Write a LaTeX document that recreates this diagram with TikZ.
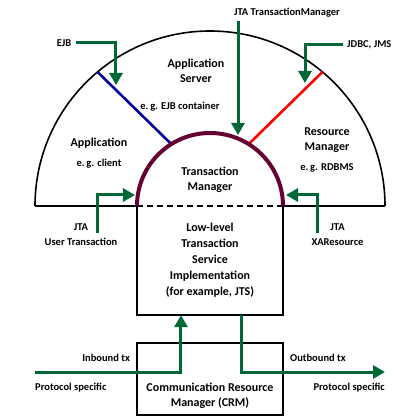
\documentclass[tikz,border=0pt]{standalone}
\usepackage{fontspec}
\setmainfont{Carlito}
\usetikzlibrary{arrows.meta,positioning}
\definecolor{jtagreen}{RGB}{0,104,55}
\definecolor{tmmaroon}{RGB}{102,0,51}
\definecolor{asblue}{RGB}{0,0,153}
\definecolor{rmred}{RGB}{250,0,0}

\begin{document}
\begin{tikzpicture}[
  x = 1pt, y = 1pt,
  every node/.style = {font=\bfseries\fontsize{12}{15.5}\selectfont, align=center, inner sep=0pt},
  small/.style = {font=\bfseries\fontsize{10.5}{15}\selectfont},
  jta/.style = {jtagreen, line width=3pt, -{Triangle[length=12pt,width=13pt]}},
  edge/.style = {line width=1.6pt}]
  \def\outr{175}
  \def\innr{73}
  \useasboundingbox (-210,-214) rectangle (210,206);

  % regions of the half disc
  \draw[edge] (-\outr,0) -- (-\innr,0);
  \draw[edge] (\innr,0) -- (\outr,0);
  \draw[edge] (\outr,0) arc (0:180:\outr);
  \draw[edge,dash pattern=on 6pt off 4pt] (-\innr,0) -- (\innr,0);
  \draw[asblue,line width=2.6pt] (130:\outr) -- (122:\innr);
  \draw[rmred,line width=2.6pt] (50:\outr) -- (58:\innr);

  \node (as) at (-14,135) {Application\\Server};
  \node[small] (ejbc) at (-30,99) {e.\,g. EJB container};
  \node (app) at (-111,63) {Application};
  \node[small] (cli) at (-111,42) {e.\,g. client};
  \node (tm) at (0,26) {Transaction\\Manager};
  \node (rm) at (117,66) {Resource\\Manager};
  \node[small] (rdb) at (117,38) {e.\,g. RDBMS};

  % service boxes
  \node[minimum width=146pt, minimum height=109pt, font=\bfseries\fontsize{12}{16}\selectfont] (ll) at (0,-54.5)
    {Low-level\\Transaction\\Service\\Implementation\\(for example, JTS)};
  \draw[edge] (ll.north west) -- (ll.south west) -- (ll.south east) -- (ll.north east);
  \node[draw, edge, minimum width=146pt, minimum height=72pt] (crm) at (0,-173) {};
  \node[above=7pt of crm.south] (crmtxt) {Communication Resource\\Manager (CRM)};

  \draw[tmmaroon,line width=4pt] (\innr,0) arc (0:180:\innr);

  % interfaces
  \node[small] (ejb) at (-146,163) {EJB};
  \coordinate (ejbtip) at (-94,121);
  \draw[jta] ([xshift=5pt]ejb.east) -| (ejbtip);

  \node[small] (jtatm) at (77,193) {JTA TransactionManager};
  \coordinate (tmtip) at (28,71);
  \draw[jta] ([yshift=-3pt]jtatm.south -| tmtip) -- (tmtip);

  \node[small, anchor=west] (jdbc) at (137,161) {JDBC, JMS};
  \coordinate (jdbctip) at (95,123);
  \draw[jta] ([xshift=-4pt]jdbc.west) -| (jdbctip);

  \node[small] (ut) at (-129,-28.5) {JTA\\User Transaction};
  \coordinate (utfoot) at (-112,-27);
  \coordinate (uttip) at (-75,11);
  \draw[jta] (utfoot) |- (uttip);

  \node[small] (xa) at (127.5,-28.5) {JTA\\XAResource};
  \coordinate (xafoot) at (107,-27);
  \coordinate (xatip) at (76,11);
  \draw[jta] (xafoot) |- (xatip);

  % transaction flow
  \coordinate (inwest) at (-175,-166);
  \coordinate (outeast) at (175,-166);
  \draw[jta] (inwest) -| ([xshift=-29pt]ll.south);
  \draw[jta] ([xshift=31pt]ll.south) |- (outeast);
  \node[small, anchor=east] (intx) at (-80,-152) {Inbound tx};
  \node[small, anchor=west] (inps) at (-175,-182) {Protocol specific};
  \node[small, anchor=west] (outtx) at (80,-152) {Outbound tx};
  \node[small, anchor=east] (outps) at (175,-182) {Protocol specific};
\end{tikzpicture}
\end{document}
